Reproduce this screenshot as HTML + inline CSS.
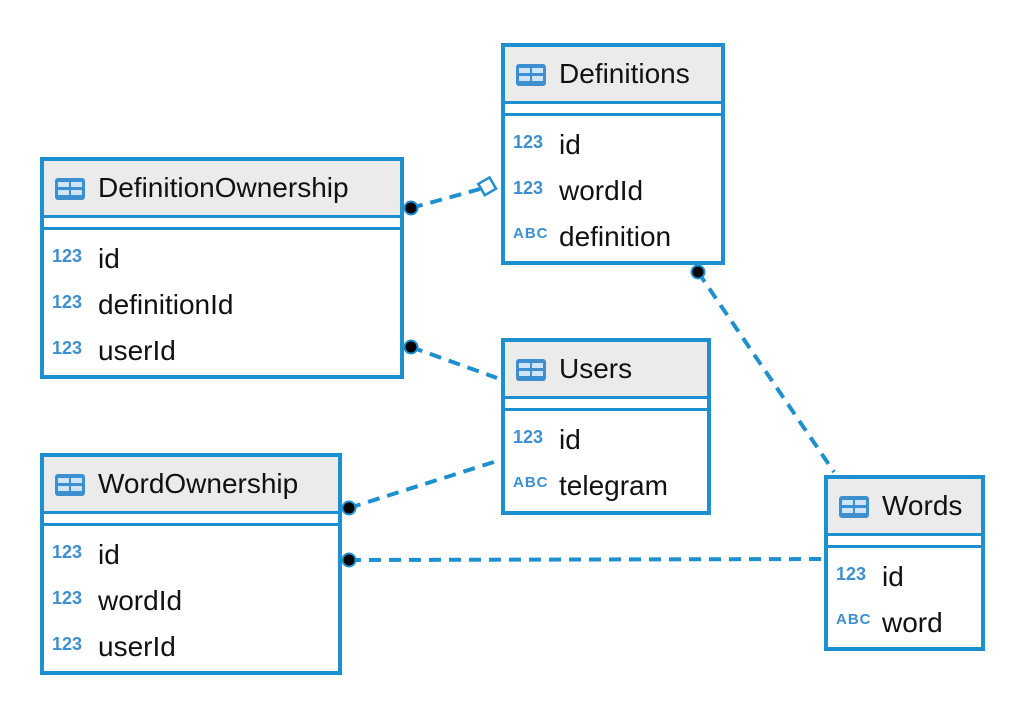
<!DOCTYPE html>
<html><head><style>
body{margin:0;width:1020px;height:722px;background:#fff;position:relative;overflow:hidden;font-family:"Liberation Sans",sans-serif}
.box{position:absolute;border:4px solid #1e8fcf;background:#fff;box-sizing:border-box}
.hd{position:absolute;left:0;right:0;top:0;height:54px;background:#ebebeb;border-bottom:3px solid #1e8fcf}
.l2{position:absolute;left:0;right:0;top:66px;height:0;border-top:3px solid #1e8fcf}
.ttl{position:absolute;left:54px;top:11px;font-size:28px;color:#111;white-space:nowrap}
.ic{position:absolute;left:11px;top:17px;width:30px;height:22px;border-radius:3px;background:#3d8fcf}
.ic i{position:absolute;background:#cfe5f5;width:11px;height:5px}
.row{position:absolute;left:8px;font-size:28px;color:#111;white-space:nowrap}
.row b{display:inline-block;width:46px;font-size:18px;color:#3d8fcf;vertical-align:6px}
.row b.a{font-size:15px;letter-spacing:1px;vertical-align:8px}
svg{position:absolute;left:0;top:0}
</style></head><body>
<svg width="1020" height="722">
<g stroke="#1e8fcf" stroke-width="4" stroke-dasharray="12 8" fill="none">
<line x1="411" y1="208" x2="480" y2="189"/>
<line x1="411" y1="347" x2="497" y2="378"/>
<line x1="349" y1="508" x2="497" y2="461"/>
<line x1="349" y1="560" x2="821" y2="559"/>
<line x1="698" y1="272" x2="834" y2="472"/>
</g>
<rect x="481" y="180" width="13" height="13" transform="rotate(-30 487 187)" fill="#fff" stroke="#1e8fcf" stroke-width="2.5"/>
<g fill="#000" stroke="#1e8fcf" stroke-width="2">
<circle cx="411" cy="208" r="6.5"/>
<circle cx="411" cy="347" r="6.5"/>
<circle cx="349" cy="508" r="6.5"/>
<circle cx="349" cy="560" r="6.5"/>
<circle cx="698" cy="272" r="6.5"/>
</g>
</svg>

<div class="box" style="left:40px;top:157px;width:364px;height:222px">
<div class="hd"><div class="ic"><i style="left:3px;top:4px"></i><i style="left:16px;top:4px"></i><i style="left:3px;top:12px"></i><i style="left:16px;top:12px"></i></div><div class="ttl">DefinitionOwnership</div></div><div class="l2"></div>
<div class="row" style="top:82px"><b>123</b>id</div>
<div class="row" style="top:128px"><b>123</b>definitionId</div>
<div class="row" style="top:174px"><b>123</b>userId</div>
</div>

<div class="box" style="left:501px;top:43px;width:224px;height:222px">
<div class="hd"><div class="ic"><i style="left:3px;top:4px"></i><i style="left:16px;top:4px"></i><i style="left:3px;top:12px"></i><i style="left:16px;top:12px"></i></div><div class="ttl">Definitions</div></div><div class="l2"></div>
<div class="row" style="top:82px"><b>123</b>id</div>
<div class="row" style="top:128px"><b>123</b>wordId</div>
<div class="row" style="top:174px"><b class="a">ABC</b>definition</div>
</div>

<div class="box" style="left:501px;top:338px;width:210px;height:177px">
<div class="hd"><div class="ic"><i style="left:3px;top:4px"></i><i style="left:16px;top:4px"></i><i style="left:3px;top:12px"></i><i style="left:16px;top:12px"></i></div><div class="ttl">Users</div></div><div class="l2"></div>
<div class="row" style="top:82px"><b>123</b>id</div>
<div class="row" style="top:128px"><b class="a">ABC</b>telegram</div>
</div>

<div class="box" style="left:40px;top:453px;width:302px;height:222px">
<div class="hd"><div class="ic"><i style="left:3px;top:4px"></i><i style="left:16px;top:4px"></i><i style="left:3px;top:12px"></i><i style="left:16px;top:12px"></i></div><div class="ttl">WordOwnership</div></div><div class="l2"></div>
<div class="row" style="top:82px"><b>123</b>id</div>
<div class="row" style="top:128px"><b>123</b>wordId</div>
<div class="row" style="top:174px"><b>123</b>userId</div>
</div>

<div class="box" style="left:824px;top:475px;width:161px;height:176px">
<div class="hd"><div class="ic"><i style="left:3px;top:4px"></i><i style="left:16px;top:4px"></i><i style="left:3px;top:12px"></i><i style="left:16px;top:12px"></i></div><div class="ttl">Words</div></div><div class="l2"></div>
<div class="row" style="top:82px"><b>123</b>id</div>
<div class="row" style="top:128px"><b class="a">ABC</b>word</div>
</div>
</body></html>
